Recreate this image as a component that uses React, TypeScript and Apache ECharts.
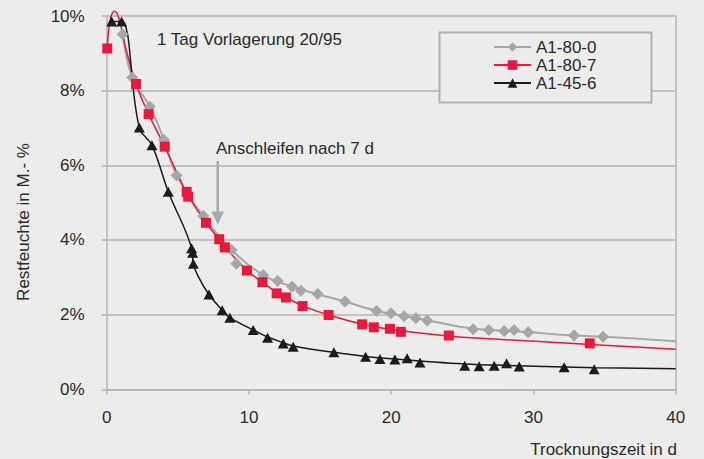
import React, { useEffect, useRef } from "react";
import * as echarts from "echarts";

// ---- data ----
const seriesNames = ["A1-80-0", "A1-80-7", "A1-45-6"];

const markersA1800: [number, number][] = [
  [1.12, 9.51], [1.8, 8.35], [3.04, 7.57], [4.03, 6.68], [4.92, 5.73], [6.79, 4.64],
  [8.78, 3.73], [9.11, 3.36], [11.0, 3.06], [12.02, 2.9], [13.04, 2.75], [13.65, 2.64],
  [14.83, 2.55], [16.75, 2.35], [18.97, 2.1], [19.98, 2.04], [20.91, 1.96], [21.74, 1.9],
  [22.53, 1.84], [25.76, 1.61], [26.87, 1.59], [27.94, 1.56], [28.64, 1.59], [29.63, 1.53],
  [32.86, 1.44], [34.9, 1.41],
];

const markersA1807: [number, number][] = [
  [0.04, 9.13], [2.06, 8.18], [2.95, 7.37], [4.08, 6.5], [5.62, 5.29], [5.73, 5.16],
  [6.98, 4.46], [7.91, 4.02], [8.31, 3.8], [9.86, 3.18], [10.95, 2.87], [11.95, 2.57],
  [12.6, 2.46], [13.77, 2.23], [15.6, 1.99], [17.96, 1.74], [18.78, 1.66], [19.91, 1.62],
  [20.68, 1.54], [24.05, 1.44], [33.96, 1.23],
];

const markersA1456: [number, number][] = [
  [0.35, 9.85], [1.05, 9.85], [2.29, 7.01], [3.18, 6.54], [4.33, 5.29], [5.97, 3.78],
  [6.04, 3.66], [6.09, 3.36], [7.19, 2.54], [8.12, 2.12], [8.66, 1.92], [10.3, 1.59],
  [11.31, 1.38], [12.41, 1.23], [13.11, 1.14], [15.97, 0.99], [18.2, 0.87], [19.21, 0.81],
  [20.26, 0.8], [21.12, 0.83], [22.02, 0.72], [25.17, 0.63], [26.18, 0.62], [27.24, 0.63],
  [28.11, 0.7], [29.0, 0.61], [32.16, 0.59], [34.27, 0.54],
];

// trend curves
const curveA1800: [number, number][] = [
  [1.12, 9.51], [1.8, 8.35], [3.04, 7.57], [4.03, 6.68], [4.92, 5.73], [6.79, 4.64],
  [8.78, 3.73], [11.0, 3.06], [13.04, 2.75], [14.83, 2.55], [16.75, 2.35], [19.0, 2.1],
  [21.0, 1.96], [22.5, 1.85], [25.8, 1.62], [29.0, 1.55], [32.9, 1.44], [34.9, 1.41],
  [40, 1.29],
];

const curveA1807: [number, number][] = [
  [0.04, 9.13], [0.25, 9.9], [0.55, 10.13], [0.85, 9.95], [1.3, 9.2], [2.06, 8.18],
  [2.95, 7.37], [4.08, 6.5], [5.0, 5.75], [5.7, 5.2], [6.98, 4.46], [7.91, 4.02],
  [8.31, 3.82], [9.86, 3.18], [10.95, 2.87], [11.95, 2.6], [13.77, 2.24], [15.6, 1.99],
  [18.0, 1.74], [20.0, 1.6], [24.0, 1.43], [28.0, 1.33], [34.0, 1.2], [40, 1.07],
];

const curveA1456: [number, number][] = [
  [0.35, 9.85], [1.05, 9.85], [2.29, 7.01], [3.18, 6.54], [4.33, 5.29], [5.97, 3.78],
  [6.09, 3.36], [6.44, 3.02], [7.19, 2.54], [8.12, 2.12], [8.66, 1.92], [10.3, 1.59],
  [11.31, 1.4], [12.41, 1.25], [13.11, 1.16], [15.97, 0.99], [18.2, 0.88], [20.26, 0.81],
  [22.02, 0.76], [25.17, 0.68], [28.11, 0.64], [32.16, 0.6], [34.27, 0.58], [40, 0.55],
];

const xMin = 0, xMax = 40, xStep = 10;
const yMin = 0, yMax = 10, yStep = 2;

const annotationTop = "1 Tag Vorlagerung 20/95";
const annotationArrow = "Anschleifen nach 7 d";
const xName = "Trocknungszeit in d";
const yName = "Restfeuchte in M.- %";

export default function App() {
  const ref = useRef<HTMLDivElement>(null);
  useEffect(() => {
    const chart = echarts.init(ref.current!, null, { renderer: "svg" });
    const family = "'Liberation Sans', Arial, Helvetica, sans-serif";
    const textColor = "#2a2a2a";
    const gridColor = "#b3b3b3";
    const bg = "#ececeb";
    const gray = "#a6a6a6";
    const red = "#e8193c";
    const black = "#1b1b1b";
    const font17 = `17px ${family}`;

    const markerSeries = (name: string, data: [number, number][], symbol: string, size: any, color: string, z: number) => ({
      type: "scatter",
      name: name + " Messwerte",
      data,
      symbol,
      symbolSize: size,
      itemStyle: { color, opacity: 1 },
      z,
      silent: true,
    });
    const curveSeries = (name: string, data: [number, number][], symbol: string, color: string, width: number) => ({
      type: "line",
      name,
      data,
      smooth: 0.4,
      showSymbol: false,
      symbol,
      symbolSize: 10,
      lineStyle: { color, width },
      itemStyle: { color },
      clip: false,
      z: 2,
      silent: true,
    });

    chart.setOption({
      animation: false,
      backgroundColor: bg,
      textStyle: { fontFamily: family },
      grid: { left: 106.7, right: 28.3, top: 16, bottom: 69.7, containLabel: false },
      xAxis: {
        type: "value",
        min: xMin,
        max: xMax,
        interval: xStep,
        axisLine: { show: true, lineStyle: { color: gridColor, width: 1.5 } },
        axisTick: { show: true, length: 5, lineStyle: { color: gridColor, width: 1.5 } },
        axisLabel: { color: textColor, fontSize: 17, margin: 20, fontFamily: family },
        splitLine: { show: false },
      },
      yAxis: [
        {
          type: "value",
          min: yMin,
          max: yMax,
          interval: yStep,
          axisLine: { show: true, lineStyle: { color: gridColor, width: 1.5 } },
          axisTick: { show: true, length: 5, lineStyle: { color: gridColor, width: 1.5 } },
          axisLabel: { formatter: "{value}%", color: textColor, fontSize: 17, margin: 22, fontFamily: family },
          splitLine: { show: true, lineStyle: { color: gridColor, width: 1.5 } },
        },
        {
          type: "value",
          position: "right",
          min: yMin,
          max: yMax,
          interval: yStep,
          axisLine: { show: true, lineStyle: { color: gridColor, width: 1.5 } },
          axisTick: { show: false },
          axisLabel: { show: false },
          splitLine: { show: false },
        },
      ],
      legend: {
        orient: "vertical",
        left: 493,
        top: 38,
        padding: 0,
        itemGap: 0,
        itemWidth: 37,
        itemHeight: 12,
        selectedMode: false,
        z: 11,
        data: seriesNames,
        textStyle: { color: textColor, fontSize: 17, lineHeight: 18, fontFamily: family },
      },
      graphic: [
        {
          type: "rect",
          z: 10,
          shape: { x: 439.5, y: 32.5, width: 212, height: 70 },
          style: { fill: bg, stroke: "#b0b0b0", lineWidth: 2 },
        },
        {
          type: "text",
          x: 23,
          y: 222,
          rotation: Math.PI / 2,
          style: { text: yName, fill: textColor, font: font17, align: "center", verticalAlign: "middle", textAlign: "center", textVerticalAlign: "middle" },
        },
        {
          type: "text",
          x: 677,
          y: 449,
          style: { text: xName, fill: textColor, font: font17, align: "right", verticalAlign: "middle", textAlign: "right", textVerticalAlign: "middle" },
        },
        {
          type: "text",
          x: 157,
          y: 39,
          style: { text: annotationTop, fill: textColor, font: font17, align: "left", verticalAlign: "middle", textAlign: "left", textVerticalAlign: "middle" },
        },
        {
          type: "text",
          x: 216,
          y: 148,
          style: { text: annotationArrow, fill: textColor, font: font17, align: "left", verticalAlign: "middle", textAlign: "left", textVerticalAlign: "middle" },
        },
        {
          type: "line",
          shape: { x1: 217.7, y1: 161, x2: 217.7, y2: 213 },
          style: { stroke: "#a9a9a9", lineWidth: 2.5 },
        },
        {
          type: "polygon",
          shape: { points: [[211.3, 211.5], [224.1, 211.5], [217.7, 224.5]] },
          style: { fill: "#a9a9a9" },
        },
      ],
      series: [
        curveSeries(seriesNames[0], curveA1800, "diamond", gray, 2),
        curveSeries(seriesNames[1], curveA1807, "rect", red, 1.5),
        curveSeries(seriesNames[2], curveA1456, "triangle", black, 1.5),
        markerSeries(seriesNames[0], markersA1800, "diamond", [12, 12], gray, 3),
        markerSeries(seriesNames[1], markersA1807, "rect", [10, 10], red, 4),
        markerSeries(seriesNames[2], markersA1456, "triangle", [11, 10], black, 5),
      ],
    });
    return () => chart.dispose();
  }, []);
  return <div ref={ref} style={{ position: "absolute", left: 0, top: 0, width: 704, height: 459 }} />;
}
